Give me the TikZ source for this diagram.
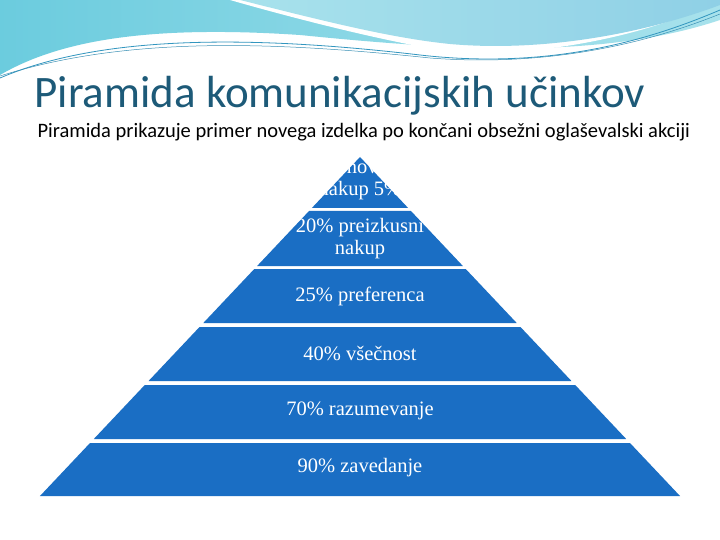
\documentclass[tikz,border=0pt]{standalone}
\usepackage{fontspec}
\setmainfont{Liberation Serif}
\newfontfamily\carl{Carlito}
\begin{document}
\begin{tikzpicture}[x=1pt,y=-1pt,
  band/.style={fill=pyr,draw=none},
  lbl/.style={text=white,font=\fontsize{20.5}{22}\selectfont,align=center}]
\definecolor{pyr}{HTML}{1A6EC4}
\definecolor{ttl}{HTML}{1D5A78}
\definecolor{wa}{HTML}{86BFD6}
\definecolor{wb}{HTML}{A8E2EC}
\definecolor{wc}{HTML}{8FD0E6}
\useasboundingbox (0,0) rectangle (720,540);
\fill[white] (0,0) rectangle (720,540);
% header waves
\shade[left color=wa!80!cyan, right color=wb] (0,0) -- (720,0) -- (720,20) .. controls (600,60) and (450,50) .. (300,35) .. controls (150,25) and (60,40) .. (0,75) -- cycle;
\fill[white] (230,0) .. controls (300,20) and (380,40) .. (440,50) .. controls (520,60) and (640,40) .. (720,0) -- cycle;
\shade[left color=wb, right color=wc] (240,0) .. controls (320,20) and (390,38) .. (450,44) .. controls (540,52) and (640,35) .. (720,5) -- (720,0) -- cycle;
\draw[cyan!50!teal,line width=0.8] (0,78) .. controls (100,35) and (250,35) .. (420,55) .. controls (550,70) and (650,40) .. (720,10);
\draw[cyan!40!teal,line width=0.5] (0,76) .. controls (120,38) and (260,40) .. (430,58) .. controls (560,68) and (660,38) .. (720,14);
% title
\node[anchor=west,text=ttl,font=\carl\fontsize{45}{50}\selectfont] (title) at (31,96) {Piramida komunikacijskih učinkov};
\node[anchor=west,font=\carl\fontsize{20.5}{24}\selectfont] (sub) at (34,132) {Piramida prikazuje primer novega izdelka po končani obsežni oglaševalski akciji};
% pyramid bands
\def\hw#1{(#1-157)*0.944}
\foreach \t/\b [count=\i] in {157/208,211/266,269/323,327/381,385/439,443/496}{
  \fill[band] ({360-\hw{\t}},\t) -- ({360+\hw{\t}},\t) -- ({360+\hw{\b}},\b) -- ({360-\hw{\b}},\b) -- cycle;
}
\node[lbl] (l1) at (360,180) {ponovni\\nakup 5\%};
\node[lbl] (l2) at (360,239) {20\% preizkusni\\nakup};
\node[lbl] (l3) at (360,296) {25\% preferenca};
\node[lbl] (l4) at (360,354) {40\% všečnost};
\node[lbl] (l5) at (360,411) {70\% razumevanje};
\node[lbl] (l6) at (360,468) {90\% zavedanje};
\end{tikzpicture}
\end{document}
